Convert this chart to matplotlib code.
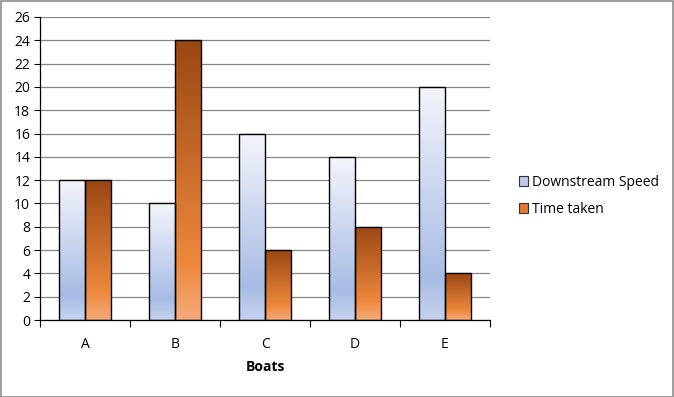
import numpy as np
import matplotlib
matplotlib.use("Agg")
import matplotlib.pyplot as plt
from matplotlib.colors import LinearSegmentedColormap
from matplotlib.patches import Rectangle

categories = ["A", "B", "C", "D", "E"]
downstream_speed = [12, 10, 16, 14, 20]
time_taken = [12, 24, 6, 8, 4]
series_names = ["Downstream Speed", "Time taken"]
y_ticks = list(range(0, 27, 2))

plt.rcParams['font.family'] = ['Open Sans', 'DejaVu Sans']

W, H = 674, 397
fig = plt.figure(figsize=(W / 100, H / 100), dpi=100)
ax = fig.add_axes([40 / W, 1 - 320 / H, 450 / W, 303 / H])

blue_cmap = LinearSegmentedColormap.from_list(
    "b", [(0, "#c6d3ee"), (0.18, "#a7bce4"), (1.0, "#f4f5fb")])
orange_cmap = LinearSegmentedColormap.from_list(
    "o", [(0, "#f4ab7c"), (0.2, "#ee893c"), (1.0, "#9a4713")])

grad = np.linspace(0, 1, 256).reshape(-1, 1)
x = np.arange(len(categories))
bw = 0.29

def gbar(xc, h, cmap):
    x0 = xc - bw / 2
    im = ax.imshow(grad, cmap=cmap, aspect="auto", origin="lower",
                   extent=[x0, x0 + bw, 0, h], zorder=2, interpolation="bicubic")
    r = Rectangle((x0, 0), bw, h, facecolor="none", edgecolor="black",
                  linewidth=1.0, zorder=3)
    ax.add_patch(r)
    im.set_clip_path(r)

for i in range(len(categories)):
    gbar(x[i] - bw / 2, downstream_speed[i], blue_cmap)
    gbar(x[i] + bw / 2, time_taken[i], orange_cmap)

ax.set_xlim(-0.5, len(categories) - 0.5)
ax.set_ylim(0, 26)
ax.set_yticks(y_ticks)
ax.set_yticklabels([str(v) for v in y_ticks], fontsize=10)
ax.yaxis.grid(True, color="#868686", linewidth=0.9, zorder=0)
ax.set_axisbelow(True)
ax.set_xticks(x)
ax.set_xticklabels(categories, fontsize=10)
ax.set_xticks(np.arange(-0.5, len(categories), 1), minor=True)
ax.tick_params(axis="x", which="major", length=0, pad=12)
ax.tick_params(axis="x", which="minor", length=5, width=0.8, direction="out")
ax.tick_params(axis="y", length=4, width=0.8, direction="out", pad=3)
for s in ["top", "right"]:
    ax.spines[s].set_visible(False)
for s in ["left", "bottom"]:
    ax.spines[s].set_color("black")
    ax.spines[s].set_linewidth(0.9)
ax.set_xlabel("Boats", fontsize=10, fontweight="bold", labelpad=6)

handles = [Rectangle((0, 0), 1, 1, facecolor="#bccbea", edgecolor="#333333", linewidth=0.8),
           Rectangle((0, 0), 1, 1, facecolor="#e37a30", edgecolor="#333333", linewidth=0.8)]
fig.legend(handles, series_names, loc="center left",
           bbox_to_anchor=(506 / W, 1 - 196 / H), frameon=False, fontsize=10,
           handlelength=0.7, handleheight=0.7, handletextpad=0.25, labelspacing=0.85)

fig.patches.append(Rectangle((0.5 / W, 0.5 / H), 1 - 1.5 / W, 1 - 1.5 / H,
                             transform=fig.transFigure, fill=False,
                             edgecolor="#8c8c8c", linewidth=1.2))

fig.savefig("out.png", dpi=100)
